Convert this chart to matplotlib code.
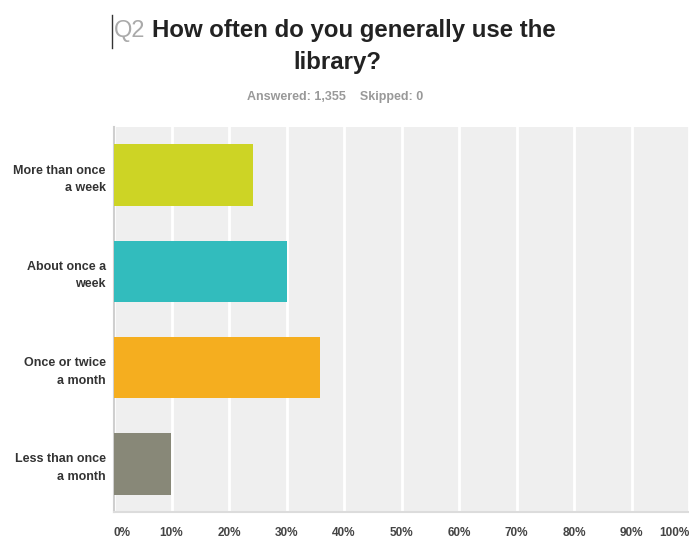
import matplotlib.pyplot as plt

plt.rcParams['font.family'] = ['Liberation Sans', 'DejaVu Sans']

categories = ['More than once\na week', 'About once a\nweek', 'Once or twice\na month', 'Less than once\na month']
percents = [24.2, 30.1, 35.8, 9.9]
colors = ['#cdd425', '#32bcbd', '#f5ae1f', '#888878']
tick_values = [0, 10, 20, 30, 40, 50, 60, 70, 80, 90, 100]
tick_labels = [f'{v}%' for v in tick_values]

W, H = 689, 538
fig = plt.figure(figsize=(W / 100, H / 100), dpi=100)
fig.patch.set_facecolor('white')

# axes box in pixels: left 114, right 689, top 127, bottom 512
ax = fig.add_axes([114 / W, 1 - 512 / H, (689 - 114) / W, (512 - 127) / H])
ax.set_facecolor('#efefef')

ypos = list(range(len(categories)))
ax.barh(ypos, percents, height=0.64, color=colors, zorder=3)
ax.set_ylim(len(categories) - 0.5, -0.5)
ax.set_xlim(0, 100)

ax.set_xticks(tick_values)
ax.set_xticklabels(tick_labels, fontsize=8.5, color='#444444', fontweight='bold')
ax.set_yticks(ypos)
ax.set_yticklabels(categories, fontsize=9, color='#333333', fontweight='bold', linespacing=1.6)
ax.tick_params(length=0)
ax.tick_params(axis='y', pad=6)
ax.tick_params(axis='x', pad=11)
labels = ax.get_xticklabels()
labels[0].set_horizontalalignment('left')
labels[-1].set_horizontalalignment('right')

ax.grid(axis='x', color='white', linewidth=2, zorder=1)
for side in ['top', 'right']:
    ax.spines[side].set_visible(False)
ax.spines['left'].set_color('#cfcfcf')
ax.spines['left'].set_linewidth(1.5)
ax.spines['bottom'].set_color('#dcdcdc')
ax.spines['bottom'].set_linewidth(1.5)

# title
fig.text(114 / W, 1 - 31 / H, 'Q2', fontsize=17, color='#aaaaaa', va='center', ha='left')
fig.text(152 / W, 1 - 31 / H, 'How often do you generally use the', fontsize=17.3,
         fontweight='bold', color='#222222', va='center', ha='left')
fig.text(337 / W, 1 - 62 / H, 'library?', fontsize=17.3, fontweight='bold',
         color='#222222', va='center', ha='center')
fig.add_artist(plt.Line2D([112 / W, 112 / W], [1 - 15 / H, 1 - 48 / H], color='#333333', linewidth=1))
fig.text(335 / W, 1 - 97 / H, 'Answered: 1,355    Skipped: 0', fontsize=9,
         fontweight='bold', color='#999999', va='center', ha='center')

fig.savefig('out.png', dpi=100)
